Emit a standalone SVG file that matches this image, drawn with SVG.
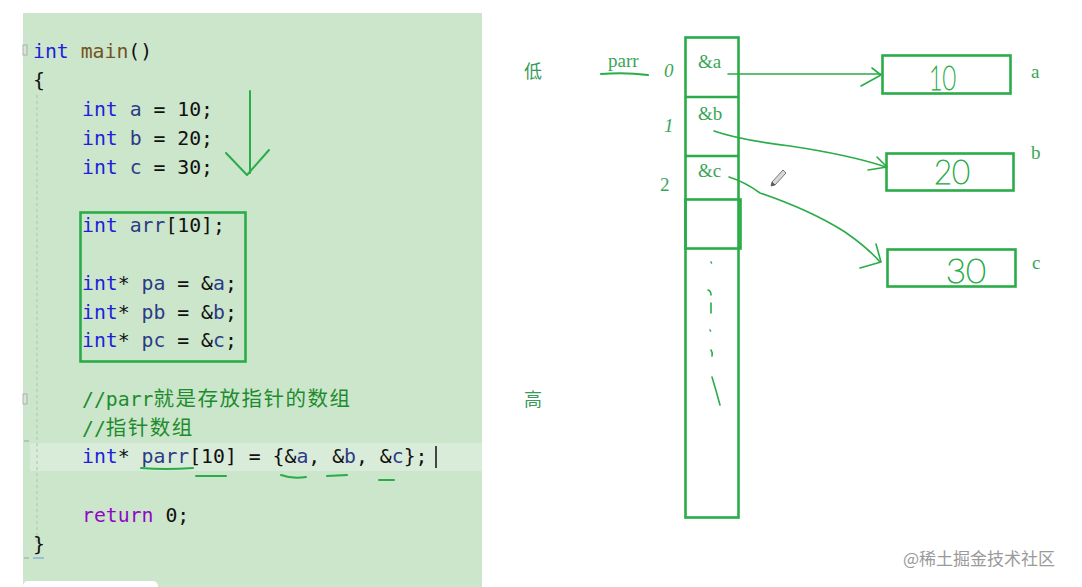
<svg xmlns="http://www.w3.org/2000/svg" width="1082" height="587" viewBox="0 0 1082 587">
<defs>
<style>
.code{font-family:"DejaVu Sans Mono","Liberation Mono",monospace;font-size:19.8px;fill:#111}
.cjk{font-family:"Noto Sans CJK SC",sans-serif;font-size:20.5px;letter-spacing:1.5px}
.kw{fill:#1f1fdc}
.id{fill:#2d3a86}
.fn{fill:#74531f}
.ret{fill:#8f08c4}
.cm{fill:#1e8c2e}
.ink{fill:none;stroke:#2aac48;stroke-width:2;stroke-linecap:round;stroke-linejoin:round}
.thin{fill:none;stroke:#2aac48;stroke-width:1.6;stroke-linecap:round;stroke-linejoin:round}
.box{fill:none;stroke:#2aac48;stroke-width:2.6}
.lbl{font-family:"Liberation Serif",serif;font-size:19px;fill:#3aa558}
.hz{font-family:"Noto Sans CJK SC",sans-serif;font-size:18px;fill:#3a9a5a}
.num{font-family:"Lato","DejaVu Sans",sans-serif;font-weight:100;font-size:33px;fill:#2aac48;stroke:#2aac48;stroke-width:1}
</style>
</defs>
<rect width="1082" height="587" fill="#ffffff"/>

<g id="code-panel">
<rect x="23" y="13" width="459" height="574" fill="#cbe6cb"/>
<rect x="30" y="443" width="452" height="28" fill="#d9ecd9"/>
<line x1="37" y1="95" x2="37" y2="545" stroke="#a8c8a8" stroke-width="1" stroke-dasharray="3,3"/>
<rect x="23" y="45" width="4" height="10" fill="#d8e4d8" stroke="#9aa89a" stroke-width="0.8"/>
<rect x="23" y="394" width="4" height="10" fill="#d8e4d8" stroke="#9aa89a" stroke-width="0.8"/>
<line x1="24" y1="441" x2="29" y2="441" stroke="#9aa89a" stroke-width="1"/>
<line x1="24" y1="558" x2="29" y2="558" stroke="#9aa89a" stroke-width="1"/>
<line x1="33" y1="558" x2="44" y2="558" stroke="#8ab0d8" stroke-width="1.5"/>
<rect x="23" y="581" width="135" height="10" rx="5" fill="#ffffff"/>

<text class="code" x="33" y="58"><tspan class="kw">int</tspan> <tspan class="fn">main</tspan>()</text>
<text class="code" x="33" y="87">{</text>
<text class="code" x="82" y="116"><tspan class="kw">int</tspan> <tspan class="id">a</tspan> = 10;</text>
<text class="code" x="82" y="145"><tspan class="kw">int</tspan> <tspan class="id">b</tspan> = 20;</text>
<text class="code" x="82" y="174"><tspan class="kw">int</tspan> <tspan class="id">c</tspan> = 30;</text>
<text class="code" x="82" y="232"><tspan class="kw">int</tspan> <tspan class="id">arr</tspan>[10];</text>
<text class="code" x="82" y="290"><tspan class="kw">int</tspan>* <tspan class="id">pa</tspan> = &amp;<tspan class="id">a</tspan>;</text>
<text class="code" x="82" y="319"><tspan class="kw">int</tspan>* <tspan class="id">pb</tspan> = &amp;<tspan class="id">b</tspan>;</text>
<text class="code" x="82" y="347"><tspan class="kw">int</tspan>* <tspan class="id">pc</tspan> = &amp;<tspan class="id">c</tspan>;</text>
<text class="code cm" x="82" y="406">//parr<tspan class="cjk">就是存放指针的数组</tspan></text>
<text class="code cm" x="82" y="435">//<tspan class="cjk">指针数组</tspan></text>
<text class="code" x="82" y="463"><tspan class="kw">int</tspan>* <tspan class="id">parr</tspan>[10] = {&amp;<tspan class="id">a</tspan>, &amp;<tspan class="id">b</tspan>, &amp;<tspan class="id">c</tspan>};</text>
<line x1="436" y1="446" x2="436" y2="468" stroke="#111" stroke-width="1.5"/>
<text class="code" x="82" y="522"><tspan class="ret">return</tspan> 0;</text>
<text class="code" x="33" y="551">}</text>

<rect x="80.5" y="212.5" width="165" height="149" class="box" stroke-width="2.2"/>
<path class="ink" d="M250 91 L250 173 M226 153 L247 175 L269 150"/>
<path class="ink" d="M141 468 Q165 470 193 468"/>
<path class="ink" d="M196 476 L226 476"/>
<path class="ink" d="M281 475 Q292 479 306 477"/>
<path class="ink" d="M327 476 L347 475"/>
<path class="ink" d="M379 480 L394 480"/>
</g>

<g id="labels">
<text class="hz" x="524" y="78">低</text>
<text class="hz" x="524" y="406">高</text>
<text class="lbl" x="608" y="67" font-size="18">parr</text>
<path class="ink" d="M601 74 Q625 72 648 75"/>
<text class="lbl" x="664" y="77" font-style="italic" font-size="22">0</text>
<text class="lbl" x="664" y="132" font-style="italic" font-size="22">1</text>
<text class="lbl" x="660" y="191" font-size="20">2</text>
<text x="903" y="565" font-family="'Noto Sans CJK SC',sans-serif" font-size="17" fill="#9a9a9a">@稀土掘金技术社区</text>
</g>

<g id="parr-array">
<rect x="685.5" y="37.5" width="53" height="480" class="box"/>
<line x1="685" y1="97" x2="739" y2="97" class="box"/>
<line x1="685" y1="156" x2="739" y2="156" class="box"/>
<rect x="685.5" y="199.5" width="55" height="49" class="box"/>
<text class="lbl" x="698" y="68">&amp;a</text>
<text class="lbl" x="698" y="120">&amp;b</text>
<text class="lbl" x="698" y="177">&amp;c</text>
<path class="thin" d="M711 262 L711.5 263 M708 290 Q711 291 711 295 M711 303 L711 313 M710 330 L710.5 331 M711 350 Q713 353 712 356 M712 377 Q716 390 720 405"/>
</g>

<g id="box-a">
<rect x="882.5" y="55.5" width="128" height="38" class="box"/>
<text class="num" x="929" y="90" textLength="27" lengthAdjust="spacingAndGlyphs">10</text>
<text class="lbl" x="1031" y="78">a</text>
</g>
<g id="box-b">
<rect x="886.5" y="153.5" width="127" height="37" class="box"/>
<text class="num" x="934" y="184" textLength="36" lengthAdjust="spacingAndGlyphs">20</text>
<text class="lbl" x="1031" y="159">b</text>
</g>
<g id="box-c">
<rect x="887.5" y="249.5" width="128" height="37" class="box"/>
<text class="num" x="946" y="283" textLength="40" lengthAdjust="spacingAndGlyphs">30</text>
<text class="lbl" x="1032" y="269">c</text>
</g>

<g id="connectors">
<path class="thin" d="M728 74 L881 74"/>
<path class="thin" d="M861 86 Q872 80 881 75 L872 68"/>
<path class="thin" d="M714 131 Q740 140 790 146 Q850 155 886 167"/>
<path class="thin" d="M877 157 L887 167 L868 170"/>
<path class="thin" d="M729 177 Q745 182 760 193 Q810 210 845 232 Q868 248 880 262"/>
<path class="thin" d="M876 244 L881 262 L860 268"/>
</g>

<g id="pencil">
<path d="M772 182 L783 170 L786 173 L775 185 Z" fill="#d8d8d8" stroke="#777" stroke-width="1"/>
<path d="M772 182 L771 186 L775 185" fill="#555" stroke="#555" stroke-width="0.8"/>
</g>
</svg>
